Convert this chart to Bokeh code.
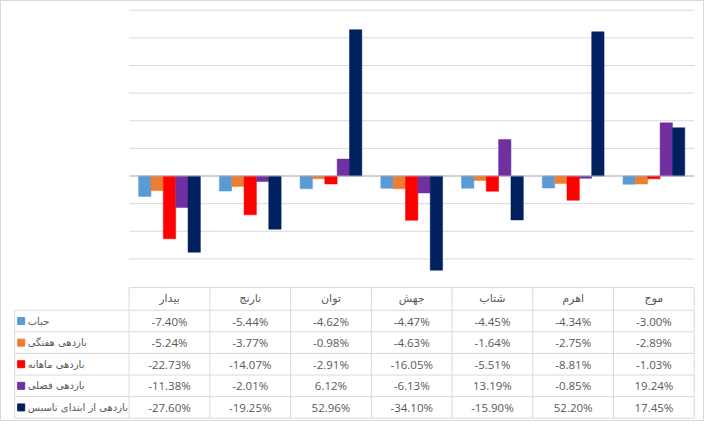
from bokeh.plotting import figure
from bokeh.models import ColumnDataSource, Range1d
from bokeh.transform import dodge
from bokeh.layouts import column
from bokeh.embed import file_html
from bokeh.resources import INLINE
from bokeh.core.properties import value

# ---------------- data ----------------
categories = ["بیدار", "نارنج", "توان", "جهش", "شتاب", "اهرم", "موج"]
series_names = ["حباب", "بازدهی هفتگی", "بازدهی ماهانه", "بازدهی فصلی", "بازدهی از ابتدای تاسیس"]
bubble = [-7.40, -5.44, -4.62, -4.47, -4.45, -4.34, -3.00]
weekly = [-5.24, -3.77, -0.98, -4.63, -1.64, -2.75, -2.89]
monthly = [-22.73, -14.07, -2.91, -16.05, -5.51, -8.81, -1.03]
quarterly = [-11.38, -2.01, 6.12, -6.13, 13.19, -0.85, 19.24]
inception = [-27.60, -19.25, 52.96, -34.10, -15.90, 52.20, 17.45]
colors = ["#5B9BD5", "#ED7D31", "#FF0000", "#7030A0", "#002060"]
y_grid_ticks = [-30, -20, -10, 10, 20, 30, 40, 50, 60]

series = [bubble, weekly, monthly, quarterly, inception]
keys = ["bubble", "weekly", "monthly", "quarterly", "inception"]

# ---------------- layout constants ----------------
W = 702
TOP_H = 285
BOT_H = 134
P1_LEFT, P1_RIGHT = 128, 9
n = len(categories)
ppu = (W - P1_LEFT - P1_RIGHT) / n          # pixels per category unit
LABEL_W = 1.417                              # legend column width (units)
PAD = 0.04
BAR_W = 0.153

GRID_C = "#D9D9D9"
TEXT_C = "#595959"

right_b = int(round(P1_RIGHT - PAD * ppu))
frame_w = (n + LABEL_W + 2 * PAD) * ppu
left_b = int(round(W - right_b - frame_w))
x_rng = Range1d(-LABEL_W - PAD, n + PAD)

# ---------------- top chart ----------------
src = ColumnDataSource(dict(cat=categories, x=[j + 0.5 for j in range(n)],
                            **{k: v for k, v in zip(keys, series)}))

p1 = figure(width=W, height=TOP_H, x_range=x_rng,
            y_range=Range1d(-40, 61), x_axis_location=None, y_axis_location=None,
            toolbar_location=None, output_backend="svg",
            min_border_left=left_b, min_border_right=right_b,
            min_border_top=6, min_border_bottom=0)
p1.outline_line_color = None
p1.xgrid.grid_line_color = None
p1.ygrid.grid_line_color = None

# horizontal gridlines spanning the category area
p1.segment(x0=[0] * len(y_grid_ticks), x1=[n] * len(y_grid_ticks),
           y0=y_grid_ticks, y1=y_grid_ticks, line_color=GRID_C, line_width=1)

for i, (k, c) in enumerate(zip(keys, colors)):
    off = (i - 2) * BAR_W
    p1.vbar(x=dodge("x", off), top=k, bottom=0, width=BAR_W,
            fill_color=c, line_color=c, line_width=0.5, source=src)

# zero line
p1.segment(x0=[0], x1=[n], y0=[0], y1=[0], line_color="#A6A6A6", line_width=1)

# ---------------- table ----------------
HEADER_TOP = 6.05
p2 = figure(width=W, height=BOT_H, x_range=x_rng,
            y_range=Range1d(-0.06, 6.1), x_axis_location=None, y_axis_location=None,
            toolbar_location=None, output_backend="svg",
            min_border_left=left_b, min_border_right=right_b,
            min_border_top=0, min_border_bottom=1)
p2.outline_line_color = None
p2.xgrid.grid_line_color = None
p2.ygrid.grid_line_color = None

n_rows = len(series_names)
hx0, hx1, hy = [], [], []
for r in range(n_rows + 1):
    hx0.append(-LABEL_W); hx1.append(n); hy.append(r)
hx0.append(0); hx1.append(n); hy.append(HEADER_TOP)
p2.segment(x0=hx0, x1=hx1, y0=hy, y1=hy, line_color=GRID_C, line_width=1)
vx, vy0, vy1 = [-LABEL_W], [0], [n_rows]
for j in range(n + 1):
    vx.append(j); vy0.append(0); vy1.append(HEADER_TOP)
p2.segment(x0=vx, x1=vx, y0=vy0, y1=vy1, line_color=GRID_C, line_width=1)

centers = [j + 0.5 for j in range(n)]
header_y = (n_rows + HEADER_TOP) / 2
p2.text(x=centers, y=[header_y] * n, text=categories, text_align="center",
        text_baseline="middle", text_font=value("DejaVu Sans"),
        text_font_size="11px", text_color=TEXT_C)

tx, ty, tt = [], [], []
for r, vals in enumerate(series):
    yc = n_rows - r - 0.5
    for j, v in enumerate(vals):
        tx.append(j + 0.5); ty.append(yc); tt.append(f"{v:.2f}%")
p2.text(x=tx, y=ty, text=tt, text_align="center", text_baseline="middle",
        text_font=value("Open Sans"), text_font_size="11.5px", text_color=TEXT_C)

row_y = [n_rows - r - 0.5 for r in range(n_rows)]
p2.scatter(x=[-LABEL_W + 0.08] * n_rows, y=row_y, marker="square", size=7,
           fill_color=colors, line_color=colors)
p2.text(x=[-LABEL_W + 0.16] * n_rows, y=row_y, text=series_names, text_align="left",
        text_baseline="middle", text_font=value("DejaVu Sans"),
        text_font_size="10px", text_color=TEXT_C)

layout = column(p1, p2, styles={"border": "1px solid #D9D9D9"})

open("out.html", "w").write(file_html(layout, INLINE))
